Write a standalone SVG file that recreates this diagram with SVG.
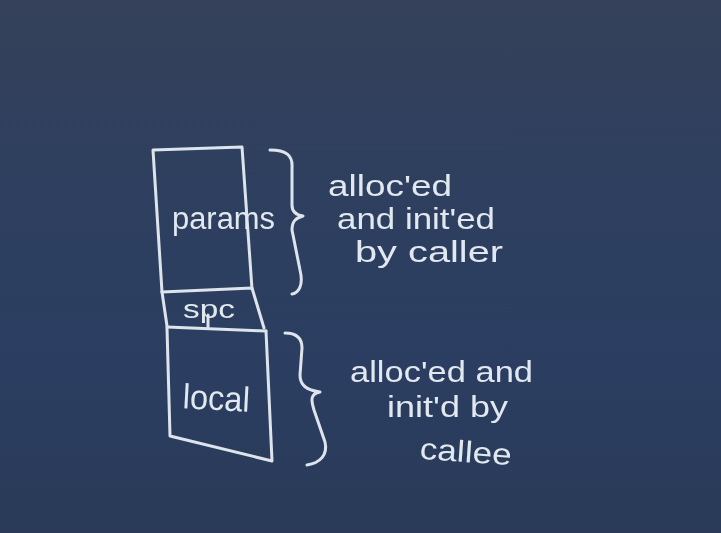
<svg xmlns="http://www.w3.org/2000/svg" width="721" height="533" viewBox="0 0 721 533">
  <defs>
    <linearGradient id="bg" x1="0" y1="0" x2="0" y2="1">
      <stop offset="0" stop-color="#35415a"/>
      <stop offset="0.35" stop-color="#2e3f5f"/>
      <stop offset="0.7" stop-color="#2b3e61"/>
      <stop offset="1" stop-color="#2a3a58"/>
    </linearGradient>
    <filter id="chalk" x="-5%" y="-5%" width="110%" height="110%">
      <feGaussianBlur stdDeviation="0.6"/>
    </filter>
  </defs>
  <style>
    .line { fill: none; stroke: #dde4ec; stroke-width: 3; stroke-linecap: round; stroke-linejoin: round; }
    .lbl { font-family: "Liberation Sans", "DejaVu Sans", sans-serif; fill: #e2e8ef; }
    .note { font-size: 30px; }
  </style>
  <rect width="721" height="533" fill="url(#bg)"/>
  <g filter="url(#chalk)">
    <g id="params">
      <polyline class="line" points="162,292 153,150 242,147 252,289"/>
      <text class="lbl" x="172" y="229" font-size="31" textLength="103" lengthAdjust="spacingAndGlyphs">params</text>
    </g>
    <g id="spc">
      <polyline class="line" points="162,292 252,288 264,328"/>
      <polyline class="line" points="162,292 167,326"/>
      <line class="line" x1="167" y1="327" x2="266" y2="331"/>
      <line class="line" x1="208" y1="315" x2="208" y2="327"/>
      <text class="lbl" x="183" y="318" font-size="26" textLength="52" lengthAdjust="spacingAndGlyphs">spc</text>
    </g>
    <g id="local">
      <polyline class="line" points="167,328 170,436 272,461 266,331"/>
      <text class="lbl" x="183" y="410" font-size="35" textLength="67" lengthAdjust="spacingAndGlyphs" transform="rotate(3 216 395)">local</text>
    </g>
    <g id="connectors">
      <path id="brace-caller" class="line" d="M270,150 C286,150 293,155 292,168 L292,205 C292,212 296,215 303,216 C296,218 292,221 292,230 L300,270 C304,286 298,293 292,294"/>
      <path id="brace-callee" class="line" d="M285,333 C296,333 302,338 302,348 L300,375 C300,385 306,390 320,392 C310,394 311,400 314,410 L325,442 C328,455 320,463 307,465"/>
    </g>
    <g id="note-caller">
      <text class="lbl note" x="328" y="196" textLength="124" lengthAdjust="spacingAndGlyphs">alloc'ed</text>
      <text class="lbl note" x="337" y="229" textLength="158" lengthAdjust="spacingAndGlyphs">and init'ed</text>
      <text class="lbl note" x="355" y="262" textLength="148" lengthAdjust="spacingAndGlyphs">by caller</text>
    </g>
    <g id="note-callee">
      <text class="lbl note" x="350" y="382" textLength="183" lengthAdjust="spacingAndGlyphs">alloc'ed and</text>
      <text class="lbl note" x="387" y="417" textLength="121" lengthAdjust="spacingAndGlyphs">init'd by</text>
      <text class="lbl note" x="420" y="462" textLength="92" lengthAdjust="spacingAndGlyphs" transform="rotate(4 466 450)">callee</text>
    </g>
  </g>
</svg>
